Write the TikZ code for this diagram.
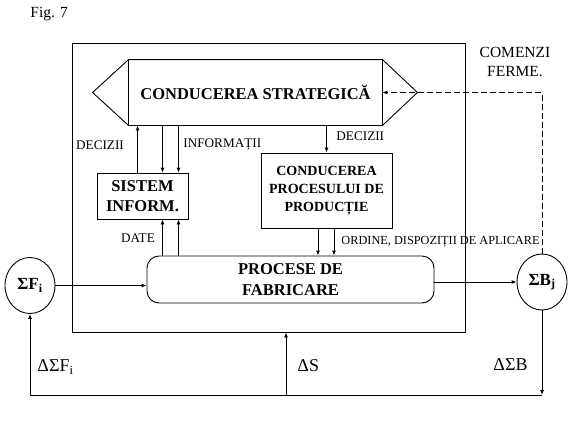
\documentclass[tikz,border=0pt]{standalone}
\usepackage{fontspec}
\setmainfont{Liberation Serif}
\usetikzlibrary{arrows.meta,calc,shapes.geometric}
\begin{document}
\begin{tikzpicture}[x=1pt,y=-1pt, line width=0.9pt,
  arr/.style={-{Latex[length=5pt,width=4pt]}},
  box/.style={draw, inner sep=0pt, align=center, font=\fontsize{16.5}{20}\selectfont\bfseries},
  lbl/.style={inner sep=0pt, font=\fontsize{13.2}{15}\selectfont},
  big/.style={inner sep=0pt, font=\fontsize{18}{20}\selectfont},
  circ/.style={draw, ellipse, minimum width=50pt, minimum height=56pt, inner sep=0pt, font=\fontsize{17}{20}\selectfont\bfseries}]
\useasboundingbox (0,0) rectangle (583,429);
\fill[white] (0,0) rectangle (583,429);
\node[anchor=west, font=\fontsize{15.5}{18}\selectfont, inner sep=0pt] (fig) at (30,14) {Fig. 7};
\node[draw, minimum width=393pt, minimum height=289pt, inner sep=0pt] (outer) at (268.5,187.5) {};
% strategic hexagon
\node[box, draw=none, minimum width=253pt, minimum height=65pt] (strat) at (255.5,92.5) {CONDUCEREA STRATEGICĂ};
\draw (strat.north west) -- (strat.north east) -- ($(strat.east)+(35,0)$) -- (strat.south east) -- (strat.south west) -- ($(strat.west)+(-36,0)$) -- cycle;
\draw (strat.north east) -- (strat.south east);
\draw (strat.north west) -- (strat.south west);
% boxes
\node[box, minimum width=91pt, minimum height=46pt, font=\fontsize{16.5}{20}\selectfont\bfseries] (sis) at (142.5,196) {SISTEM\\INFORM.};
\node[box, minimum width=131pt, minimum height=75pt, font=\fontsize{14}{18}\selectfont\bfseries] (cpp) at (326.5,190.5) {CONDUCEREA\\PROCESULUI DE\\PRODUCȚIE};
\node[box, rounded corners=12pt, minimum width=287pt, minimum height=47pt, font=\fontsize{16.5}{21}\selectfont\bfseries] (proc) at (290.5,279.5) {PROCESE DE\\FABRICARE};
\node[circ] (F) at (30,285.5) {ΣF\textsubscript{i}};
\node[circ] (B) at (542,282) {ΣB\textsubscript{j}};
% arrows strat <-> sistem
\path (sis.north west) ++(41,0) coordinate (a1) ++(25,0) coordinate (a2) ++(16,0) coordinate (a3);
\draw[arr] (a1) -- (a1 |- strat.south);
\draw[arr] (a2 |- strat.south) -- (a2);
\draw[arr] (a3 |- strat.south) -- (a3);
\draw[arr] (a2 |- proc.north) -- (a2 |- sis.south);
\draw[arr] (a3 |- proc.north) -- (a3 |- sis.south);
% strat -> cpp -> proc
\draw[arr] (cpp.north |- strat.south) -- (cpp.north);
\path (cpp.south) ++(-8.5,0) coordinate (c1) ++(16,0) coordinate (c2);
\draw[arr] (c1) -- (c1 |- proc.north);
\draw[arr] (c2) -- (c2 |- proc.north);
% flows
\draw[arr] (F.east) -- (F.east -| proc.west);
\draw[arr] (B.west -| proc.east) -- (B.west);
\draw[arr, dash pattern=on 6pt off 3pt, line width=0.7pt] (B.north) |- (strat.east);
% feedback
\coordinate (br) at (542,395);
\coordinate (bl) at (30,395);
\coordinate (bm) at (286,395);
\draw[arr] (B.south) -- (br);
\draw (br) -- (bl);
\draw[arr] (bl) -- (F.south);
\draw[arr] (bm) -- (bm |- outer.south);
% labels
\node[lbl] (dec1) at (100,145) {DECIZII};
\node[lbl, anchor=west] (inf) at (183,145) {INFORMAȚII};
\node[lbl] (date) at (138,238) {DATE};
\node[lbl, anchor=west] (dec2) at (336,136) {DECIZII};
\node[lbl, anchor=west, font=\fontsize{12.3}{14}\selectfont] (ord) at (341,242) {ORDINE, DISPOZIȚII DE APLICARE};
\node[align=center, font=\fontsize{15.5}{19}\selectfont, inner sep=0pt] (com) at (515,62) {COMENZI\\FERME.};
\node[big, anchor=west] (dF) at (37,367) {ΔΣF\textsubscript{i}};
\node[big, anchor=west] (dS) at (297,366) {ΔS};
\node[big, anchor=west] (dB) at (493,365) {ΔΣB};
\end{tikzpicture}
\end{document}
